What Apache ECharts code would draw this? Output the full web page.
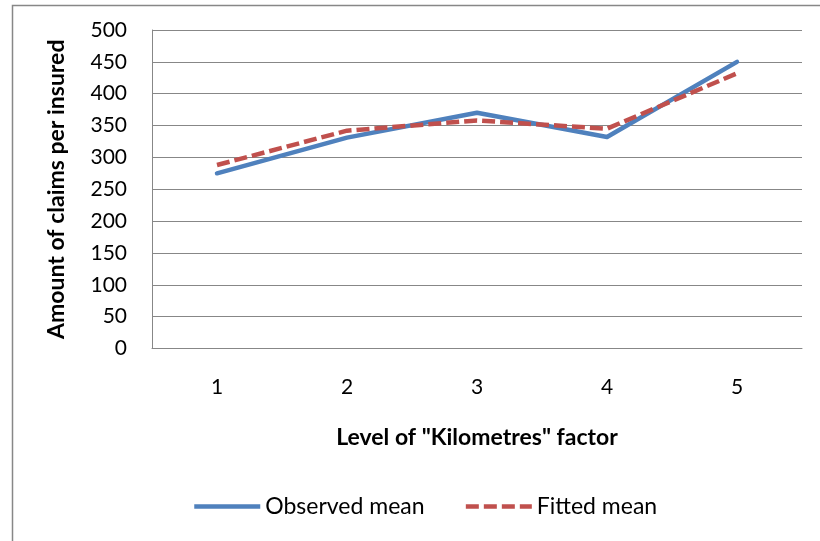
<!DOCTYPE html>
<html>
<head>
<meta charset="utf-8">
<style>
  html, body { margin: 0; padding: 0; background: #ffffff; }
  #chart { width: 820px; height: 541px; }
</style>
<script src="https://cdn.jsdelivr.net/npm/echarts@6/dist/echarts.min.js"></script>
</head>
<body>
<div id="chart"></div>
<script>
// Mean claim amount per insured by level of the "Kilometres" factor
const levels = ['1', '2', '3', '4', '5'];
const observedMean = [275, 331, 370, 332, 450];
const fittedMean = [288, 342, 358, 345, 432];

const FONT = 'Lato';
const GRID_GREY = '#878787';

const chart = echarts.init(document.getElementById('chart'), null, { renderer: 'canvas' });

chart.setOption({
  backgroundColor: '#ffffff',
  animation: false,
  textStyle: { fontFamily: FONT, color: '#000000' },
  graphic: [{
    type: 'rect',
    left: 10,
    top: 3,
    shape: { width: 900, height: 700 },
    style: { fill: 'none', stroke: GRID_GREY, lineWidth: 1.5 },
    silent: true
  }],
  grid: { left: 152, right: 18, top: 30, bottom: 192.5 },
  legend: {
    left: 187,
    top: 490,
    itemWidth: 66,
    itemHeight: 4,
    itemGap: 39,
    itemStyle: { opacity: 0 },
    lineStyle: { width: 'inherit', type: 'inherit', cap: 'butt' },
    textStyle: { fontFamily: FONT, fontSize: 23, color: '#000000' },
    data: ['Observed mean', 'Fitted mean']
  },
  xAxis: {
    type: 'category',
    data: levels,
    boundaryGap: true,
    name: 'Level of "Kilometres" factor',
    nameLocation: 'middle',
    nameGap: 78,
    nameTextStyle: { fontFamily: FONT, fontSize: 23, fontWeight: 'bold', color: '#000000' },
    axisLine: { lineStyle: { color: GRID_GREY, width: 1 } },
    axisTick: { show: false },
    axisLabel: { margin: 28, fontFamily: FONT, fontSize: 21, color: '#000000' },
    splitLine: { show: false }
  },
  yAxis: {
    type: 'value',
    min: 0,
    max: 500,
    interval: 50,
    name: 'Amount of claims per insured',
    nameLocation: 'middle',
    nameGap: 84,
    nameTextStyle: { fontFamily: FONT, fontSize: 23, fontWeight: 'bold', color: '#000000' },
    axisLine: { show: true, lineStyle: { color: GRID_GREY, width: 1 } },
    axisTick: { show: false },
    axisLabel: { margin: 25, fontFamily: FONT, fontSize: 21, color: '#000000' },
    splitLine: { lineStyle: { color: GRID_GREY, width: 1 } }
  },
  series: [
    {
      name: 'Observed mean',
      type: 'line',
      data: observedMean,
      symbol: 'none',
      color: '#4F81BD',
      lineStyle: { color: '#4F81BD', width: 4.5, cap: 'round', join: 'round' },
      z: 2
    },
    {
      name: 'Fitted mean',
      type: 'line',
      data: fittedMean,
      symbol: 'none',
      color: '#C0504D',
      lineStyle: { color: '#C0504D', width: 4.5, type: [13, 5], cap: 'butt', join: 'round' },
      z: 3
    }
  ]
});
</script>
</body>
</html>
